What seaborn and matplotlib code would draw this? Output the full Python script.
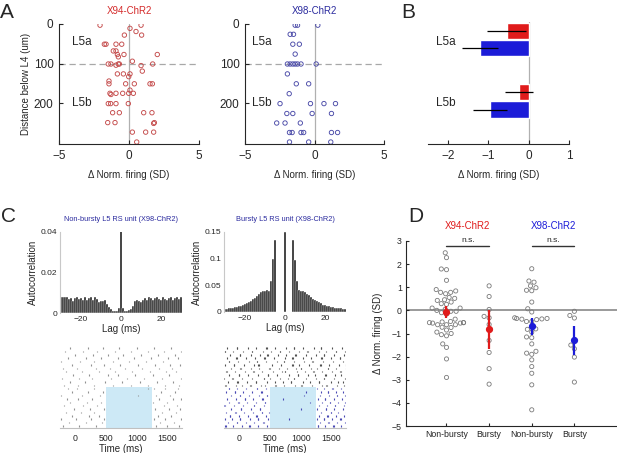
import numpy as np
import pandas as pd
import matplotlib.pyplot as plt
from matplotlib.patches import Rectangle
import seaborn as sns

# ---- A: change in firing vs depth below L4 ----
x94_delta = [-2.07, 0.07, 0.86, 0.50, 0.90, -0.33,
             -1.76, -1.64, -0.93, -0.52,
             -1.12, -0.93, -0.83, -0.76, -0.36, 2.02,
             -1.48, -1.29, -0.93, -0.76, -0.69, 0.24, 0.86, 0.95, 1.69,
             -0.83, -0.40, 0.07, -0.02,
             -1.43, -1.43, -0.24, 0.38, 1.50, 1.67,
             -1.36, -1.29, -0.93, -0.45, 0.07, -0.02, 0.31,
             -1.48, -1.31, -0.93, -0.05,
             -1.17, -0.69, 1.05, 1.64,
             -1.52, -1.00, 1.81, 1.76,
             0.24, 1.19, 1.76,
             0.55]
x94_depth = [3, 11, 3, 19, 28, 28,
             51, 51, 51, 51,
             68, 68, 77, 83, 77, 77,
             101, 101, 104, 101, 101, 94, 105, 119, 101,
             126, 126, 126, 133,
             144, 151, 151, 151, 151, 151,
             175, 178, 175, 175, 167, 175, 175,
             201, 201, 201, 201,
             224, 224, 224, 224,
             249, 249, 249, 251,
             273, 273, 273,
             298]

x98_delta = [-1.39, -1.22, 0.24,
             -1.75, -1.51,
             -1.56, -1.09,
             -1.39,
             -1.95, -1.75, -1.56, -1.39, -1.22, -0.97, 0.12,
             -1.95,
             -1.31, -0.42,
             -1.82,
             -2.48, -0.29, 0.68, 1.51,
             -1.99, -1.56, -0.17, 1.22,
             -2.72, -2.12, -1.02,
             -1.80, -1.61, -0.97, -0.78, 1.22, 1.66,
             -1.80, -0.42, 1.17]
x98_depth = [3, 3, 3,
             26, 26,
             51, 51,
             76,
             101, 101, 101, 101, 101, 101, 101,
             126,
             151, 151,
             176,
             201, 201, 201, 201,
             226, 226, 226, 226,
             250, 250, 250,
             274, 274, 274, 274, 274, 274,
             298, 298, 298]

# ---- B: mean change per layer ----
b_layer = ['L5a', 'L5a', 'L5b', 'L5b']
b_line = ['X94-ChR2', 'X98-ChR2', 'X94-ChR2', 'X98-ChR2']
b_mean = [-0.55, -1.20, -0.24, -0.97]
b_sem = [0.49, 0.45, 0.35, 0.42]

# ---- C: autocorrelograms (lag -30..30 ms) ----
lags = list(range(-30, 31))
acg_nonbursty = [0.0080, 0.0080, 0.0078, 0.0078, 0.0068, 0.0074, 0.0058, 0.0072, 0.0078, 0.0070,
                 0.0072, 0.0066, 0.0080, 0.0062, 0.0074, 0.0078, 0.0062, 0.0080, 0.0068, 0.0054,
                 0.0060, 0.0060, 0.0062, 0.0046, 0.0030, 0.0018, 0.0012, 0.0010, 0.0012, 0.0026,
                 0.0500,
                 0.0024, 0.0012, 0.0010, 0.0014, 0.0022, 0.0036, 0.0058, 0.0062, 0.0060, 0.0054,
                 0.0066, 0.0072, 0.0066, 0.0080, 0.0074, 0.0064, 0.0072, 0.0078, 0.0068, 0.0062,
                 0.0078, 0.0070, 0.0066, 0.0076, 0.0080, 0.0062, 0.0074, 0.0078, 0.0070, 0.0080]
acg_bursty = [0.006, 0.006, 0.007, 0.007, 0.008, 0.009, 0.010, 0.011, 0.012, 0.013,
              0.015, 0.017, 0.019, 0.021, 0.024, 0.027, 0.030, 0.034, 0.037, 0.040,
              0.040, 0.041, 0.040, 0.058, 0.100, 0.135, 0.000, 0.000, 0.000, 0.000,
              0.150,
              0.000, 0.000, 0.000, 0.135, 0.098, 0.058, 0.042, 0.040, 0.040, 0.038,
              0.034, 0.031, 0.028, 0.025, 0.022, 0.020, 0.018, 0.016, 0.014, 0.013,
              0.012, 0.011, 0.010, 0.009, 0.008, 0.008, 0.007, 0.007, 0.006, 0.006]

# ---- C: spike rasters (ms), bottom rows are light trials ----
nb_light = [[-200, 60, 330, 1320, 1500, 1690],
            [-110, 170, 430, 1380, 1610],
            [-230, 10, 260, 470, 1290, 1470, 1720],
            [-50, 220, 380, 1350, 1560],
            [-160, 90, 310, 1410, 1640],
            [-20, 240, 460, 1300, 1530, 1700],
            [-190, 130, 350, 1440, 1660],
            [-80, 190, 420, 1270, 1490],
            [-140, 50, 280, 1360, 1590, 1730],
            [-240, 110, 400, 1020, 1320, 1540],
            [-60, 200, 450, 1400, 1620],
            [-120, 30, 300, 1180, 1290, 1470, 1680]]
nb_base = [[-180, 40, 310, 620, 905, 1180, 1460, 1690],
           [-90, 150, 480, 760, 1050, 1330, 1600],
           [-220, 60, 270, 590, 840, 1120, 1410, 1720],
           [-30, 220, 530, 700, 980, 1260, 1520],
           [-150, 110, 390, 650, 930, 1210, 1480, 1650],
           [-200, 20, 340, 560, 810, 1090, 1370, 1580],
           [-60, 250, 470, 730, 1020, 1300, 1550, 1700],
           [-240, 80, 300, 610, 880, 1150, 1430],
           [-120, 180, 420, 690, 960, 1240, 1510, 1680],
           [-10, 290, 540, 780, 1070, 1350, 1620],
           [-170, 130, 360, 640, 900, 1190, 1450, 1730],
           [-80, 200, 450, 720, 1000, 1280, 1560]]

b_light = [[-228, -221, -96, 37, 162, 169, 311, 448, 1283, 1291, 1402, 1533, 1541, 1665],
           [-182, -41, -34, 103, 247, 388, 395, 1318, 1452, 1460, 1589, 1721],
           [-239, -116, 12, 19, 176, 302, 309, 467, 810, 1267, 1376, 1384, 1517, 1648, 1655],
           [-155, -148, 2, 141, 275, 282, 427, 1301, 1435, 1443, 1571, 1702],
           [-210, -64, -57, 84, 219, 363, 370, 486, 1339, 1488, 1495, 1617, 1738],
           [-133, 24, 31, 197, 338, 345, 1000, 1272, 1410, 1417, 1551, 1689],
           [-244, -237, -85, 59, 236, 243, 402, 1294, 1425, 1558, 1565, 1712],
           [-168, -19, -12, 127, 264, 413, 420, 1150, 1350, 1471, 1478, 1603, 1731],
           [-203, -51, 88, 95, 229, 372, 379, 716, 1278, 1395, 1402, 1540, 1679],
           [-140, 6, 13, 152, 318, 451, 458, 1050, 1311, 1462, 1593, 1600, 1724],
           [-225, -78, -71, 68, 208, 355, 362, 1088, 1327, 1441, 1448, 1575, 1694],
           [-176, -169, -30, 115, 287, 294, 438, 1262, 1389, 1516, 1523, 1662]]
b_base = [[-232, -224, -61, 48, 176, 183, 352, 417, 590, 598, 733, 905, 1012, 1019, 1186, 1347, 1421, 1429, 1596, 1702],
          [-187, -35, -28, 121, 266, 274, 449, 583, 706, 839, 846, 1031, 1150, 1293, 1301, 1488, 1611, 1683],
          [-246, -118, -111, 37, 214, 395, 402, 508, 661, 797, 885, 892, 1083, 1247, 1380, 1387, 1537, 1726],
          [-163, -9, 2, 140, 301, 466, 473, 622, 818, 957, 964, 1116, 1228, 1402, 1409, 1562, 1665],
          [-214, -207, -72, 98, 227, 234, 371, 551, 689, 745, 752, 938, 1071, 1203, 1210, 1356, 1505, 1647, 1654],
          [-128, 19, 26, 193, 328, 487, 494, 643, 779, 922, 1002, 1009, 1167, 1274, 1439, 1446, 1581, 1735],
          [-238, -94, -86, 72, 246, 309, 316, 529, 674, 862, 869, 981, 1132, 1318, 1325, 1468, 1622, 1740],
          [-176, -169, -22, 157, 285, 292, 428, 607, 721, 728, 894, 1057, 1192, 1199, 1372, 1529, 1693],
          [-201, -51, -44, 106, 259, 408, 415, 566, 741, 866, 873, 1044, 1161, 1336, 1343, 1497, 1639, 1646],
          [-149, 8, 15, 187, 341, 459, 466, 636, 758, 915, 922, 1088, 1253, 1376, 1383, 1551, 1712],
          [-241, -233, -99, 53, 203, 210, 380, 514, 657, 664, 807, 968, 1109, 1116, 1294, 1417, 1573, 1580, 1728],
          [-193, -41, -33, 134, 272, 437, 444, 578, 767, 886, 893, 1036, 1219, 1331, 1338, 1512, 1669]]
light_on, light_off = 500, 1250

# ---- D: bursty vs non-bursty ----
d_groups = ['X94 Non-bursty', 'X94 Bursty', 'X98 Non-bursty', 'X98 Bursty']
d_ticklabels = ['Non-bursty', 'Bursty', 'Non-bursty', 'Bursty']
x94_nonbursty = [2.49, 2.28, 1.79, 1.76, 1.30, 0.90, 0.84, 0.78, 0.78, 0.72, 0.56, 0.52, 0.46, 0.43,
                 0.36, 0.29, 0.26, 0.10, 0.05, 0.00, 0.10, -0.04, -0.04, -0.10, -0.16, -0.38, -0.48,
                 -0.53, -0.53, -0.50, -0.53, -0.62, -0.62, -0.62, -0.55, -0.55, -0.74, -0.73, -0.85,
                 -1.10, -1.05, -1.00, -0.94, -1.45, -1.60, -2.10, -2.90]
x94_bursty = [1.06, 0.60, 0.04, -0.26, -0.32, -0.61, -1.30, -1.82, -2.52, -3.19]
x98_nonbursty = [1.80, 1.27, 1.22, 1.06, 0.98, 0.87, 0.85, 0.36, 0.07, -0.07, -0.32, -0.35, -0.35,
                 -0.38, -0.37, -0.40, -0.48, -0.48, -0.80, -0.82, -1.18, -1.15, -0.94, -1.45, -1.77,
                 -1.90, -1.85, -2.14, -2.43, -2.72, -3.22, -4.30]
x98_bursty = [-0.04, -0.22, -0.33, -1.50, -1.66, -2.02, -3.10]
d_mean = [-0.07, -0.82, -0.69, -1.30]
d_err = [0.25, 0.83, 0.38, 0.62]

RED = '#e01b1b'
BLUE = '#1c1cd8'
DARKBLUE = '#2a2a9e'

sns.set_style("ticks")
plt.rcParams['font.family'] = ['Liberation Sans', 'DejaVu Sans']
plt.rcParams['xtick.direction'] = 'in'
plt.rcParams['ytick.direction'] = 'in'
plt.rcParams['axes.edgecolor'] = '#262626'
plt.rcParams['axes.linewidth'] = 0.8

W, H = 617, 453
fig = plt.figure(figsize=(W / 100, H / 100), dpi=100)


def box(x0, y0, x1, y1):
    return [x0 / W, 1 - y1 / H, (x1 - x0) / W, (y1 - y0) / H]


# panel A
def depth_panel(ax, delta, depth, color, title, tcolor, lab_x):
    sns.scatterplot(x=delta, y=depth, ax=ax, s=10, marker='o', legend=False)
    pts = ax.collections[-1]
    pts.set_facecolor('none')
    pts.set_edgecolor(color)
    pts.set_linewidth(0.65)
    ax.axvline(0, color='#b0b0b0', lw=0.9, zorder=0)
    ax.axhline(100, color='#a8a8a8', lw=0.9, ls=(0, (5, 3)), zorder=0)
    ax.set_xlim(-5, 5)
    ax.set_ylim(303, 0)
    ax.set_xticks([-5, 0, 5])
    ax.set_yticks([0, 100, 200])
    ax.tick_params(labelsize=8.5, length=3, pad=4)
    sns.despine(ax=ax)
    ax.set_xlabel('Δ Norm. firing (SD)', fontsize=7, labelpad=6)
    ax.set_title(title, color=tcolor, fontsize=7, pad=7)
    ax.text(lab_x, 45, 'L5a', fontsize=8.5, ha='center', va='center')
    ax.text(lab_x, 200, 'L5b', fontsize=8.5, ha='center', va='center')


axA1 = fig.add_axes(box(59, 24, 199, 144))
depth_panel(axA1, x94_delta, x94_depth, '#c44a4a', 'X94-ChR2', '#d42a2a', -3.4)
axA1.set_ylabel('Distance below L4 (um)', fontsize=7)
axA1.yaxis.set_label_coords(-0.2, 0.5)

axA2 = fig.add_axes(box(245, 24, 384, 144))
depth_panel(axA2, x98_delta, x98_depth, '#4a4aa8', 'X98-ChR2', DARKBLUE, -3.8)

# panel B
axB = fig.add_axes(box(428, 22, 569, 144))
dfB = pd.DataFrame({'layer': b_layer, 'line': b_line, 'mean': b_mean})
sns.barplot(data=dfB, x='mean', y='layer', hue='line', orient='h', palette=[RED, BLUE],
            width=0.56, gap=0.06, saturation=1, errorbar=None, legend=False, ax=axB)
sem_of = {(l, g): s for l, g, s in zip(b_layer, b_line, b_sem)}
for cont, line in zip(axB.containers, ['X94-ChR2', 'X98-ChR2']):
    for bar, layer in zip(cont, ['L5a', 'L5b']):
        axB.errorbar(bar.get_width(), bar.get_y() + bar.get_height() / 2,
                     xerr=sem_of[(layer, line)], color='black', lw=0.9, capsize=0, zorder=3)
axB.axvline(0, color='#b0b0b0', lw=0.9, zorder=0)
axB.set_xlim(-2.5, 1)
axB.set_ylim(1.70, -0.285)
axB.set_xticks([-2, -1, 0, 1])
axB.set_yticks([])
axB.tick_params(labelsize=8.5, length=3, pad=4)
for lab, yy in zip(['L5a', 'L5b'], [0, 1]):
    axB.text(-2.05, yy + 0.04, lab, fontsize=8.5, ha='center', va='center')
axB.set_ylabel('')
axB.set_xlabel('Δ Norm. firing (SD)', fontsize=7, labelpad=6)
sns.despine(ax=axB, left=True)


# panel C autocorrelograms
def acg_panel(ax, values, top, ticks, title):
    acg = pd.DataFrame({'lag': lags, 'acg': values})
    sns.histplot(data=acg, x='lag', weights='acg', discrete=True, shrink=1,
                 color='#1a1a1a', alpha=1, edgecolor='white', linewidth=0.3, ax=ax)
    ax.set_xlim(-30.5, 30.5)
    ax.set_ylim(0, top)
    ax.set_yticks(ticks)
    ax.set_yticklabels([f'{t:g}' for t in ticks])
    ax.set_xticks([-20, 0, 20])
    ax.tick_params(labelsize=6, length=0, pad=2)
    ax.set_xlabel('Lag (ms)', fontsize=7, labelpad=1)
    ax.set_ylabel('Autocorrelation', fontsize=7, labelpad=2)
    ax.set_title(title, color=DARKBLUE, fontsize=5.3, pad=8)
    sns.despine(ax=ax)
    ax.spines['left'].set_color('#c8c8c8')
    ax.spines['bottom'].set_visible(False)


axC1 = fig.add_axes(box(60, 232, 182, 313))
acg_panel(axC1, acg_nonbursty, 0.04, [0, 0.02, 0.04], 'Non-bursty L5 RS unit (X98-ChR2)')
axC2 = fig.add_axes(box(224, 232, 346, 312))
acg_panel(axC2, acg_bursty, 0.15, [0, 0.05, 0.1, 0.15], 'Bursty L5 RS unit (X98-ChR2)')


# panel C rasters
def raster_panel(ax, light, base, light_col, base_col):
    trials = light + base
    cols = [light_col] * len(light) + [base_col] * len(base)
    ax.add_patch(Rectangle((light_on, -0.6), light_off - light_on, len(light) + 0.1,
                           facecolor='#cde9f6', edgecolor='none', zorder=0))
    ax.eventplot(trials, lineoffsets=list(range(len(trials))), linelengths=0.42,
                 linewidths=0.8, colors=cols, zorder=2)
    ax.set_xlim(-250, 1740)
    ax.set_ylim(-0.6, len(trials) - 0.4)
    ax.set_xticks([0, 500, 1000, 1500])
    ax.set_yticks([])
    ax.tick_params(labelsize=6.3, length=0, pad=4)
    ax.set_xlabel('Time (ms)', fontsize=7, labelpad=1)
    sns.despine(ax=ax, left=True)
    ax.spines['bottom'].set_color('#c0c0c0')


axR1 = fig.add_axes(box(60, 346, 182, 428))
raster_panel(axR1, nb_light, nb_base, '#909090', '#909090')
axR2 = fig.add_axes(box(224, 346, 346, 428))
raster_panel(axR2, b_light, b_base, '#4848b4', '#505050')

# panel D
axD = fig.add_axes(box(406, 241, 617, 426))
dfD = pd.DataFrame({
    'group': [d_groups[0]] * len(x94_nonbursty) + [d_groups[1]] * len(x94_bursty)
             + [d_groups[2]] * len(x98_nonbursty) + [d_groups[3]] * len(x98_bursty),
    'value': x94_nonbursty + x94_bursty + x98_nonbursty + x98_bursty,
})
axD.axhline(0, color='#9a9a9a', lw=1.4, zorder=0)
sns.swarmplot(data=dfD, x='group', y='value', order=d_groups, color='#7a7a7a', size=3.0,
              linewidth=0.6, ax=axD, zorder=2, warn_thresh=1)
for coll in axD.collections:
    coll.set_facecolor('none')
    coll.set_edgecolor('#7a7a7a')
    coll.set_linewidth(0.6)
for i, (m, e, c) in enumerate(zip(d_mean, d_err, [RED, RED, BLUE, BLUE])):
    axD.errorbar(i, m, yerr=e, fmt='o', color=c, ms=4.2, lw=1.6, capsize=0, zorder=4)
axD.set_xlim(-0.95, 4.0)
axD.set_ylim(-5, 3)
axD.set_yticks(range(-5, 4))
axD.set_xticks(range(4))
axD.set_xticklabels(d_ticklabels)
axD.tick_params(labelsize=6.3, length=2.5, pad=3)
axD.set_xlabel('')
axD.set_ylabel('Δ Norm. firing (SD)', fontsize=7)
axD.yaxis.set_label_coords(-0.11, 0.5)
sns.despine(ax=axD)
for x0, label, c in [(0, 'X94-ChR2', RED), (2, 'X98-ChR2', BLUE)]:
    axD.plot([x0, x0 + 1], [2.8, 2.8], color='#333333', lw=1.0, clip_on=False)
    axD.text(x0 + 0.5, 2.86, 'n.s.', fontsize=6, ha='center', va='bottom')
    axD.text(x0 + 0.5, 3.45, label, fontsize=7, color=c, ha='center', va='bottom')

# panel letters
for lab, px, py in [('A', 7, 12), ('B', 408, 12), ('C', 8, 217), ('D', 416, 217)]:
    fig.text(px / W, 1 - py / H, lab, fontsize=15, ha='center', va='center')

fig.savefig('out.png', dpi=100)
